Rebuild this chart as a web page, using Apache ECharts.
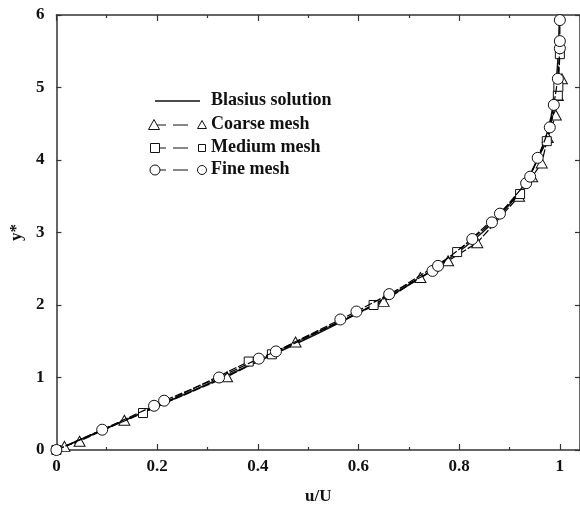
<!DOCTYPE html>
<html>
<head>
<meta charset="utf-8">
<script src="https://cdn.jsdelivr.net/npm/echarts@6/dist/echarts.min.js"></script>
<style>
html,body{margin:0;padding:0;background:#fff;}
#chart{width:580px;height:510px;}
</style>
</head>
<body>
<div id="chart"></div>
<script>
// Blasius solution (tabulated)
const blasiusY = [0,0.2,0.4,0.6,0.8,1.0,1.2,1.4,1.6,1.8,2.0,2.2,2.4,2.6,2.8,3.0,3.2,3.4,3.6,3.8,4.0,4.2,4.4,4.6,4.8,5.0,5.2,5.4,5.6,5.8,6.0];
const blasiusU = [0,0.0664,0.1328,0.1989,0.2647,0.3298,0.3938,0.4563,0.5168,0.5748,0.6298,0.6813,0.7290,0.7725,0.8115,0.8461,0.8761,0.9018,0.9233,0.9411,0.9555,0.9670,0.9759,0.9827,0.9878,0.9916,0.9943,0.9962,0.9975,0.9984,0.9990];

// Coarse mesh (triangles)
const coarseU = [0.016,0.046,0.135,0.339,0.475,0.650,0.723,0.778,0.836,0.919,0.945,0.964,0.976,0.992,0.996,1.004];
const coarseY = [0.05,0.12,0.41,1.01,1.49,2.05,2.38,2.61,2.86,3.50,3.77,3.96,4.31,4.62,4.89,5.12];

// Medium mesh (squares)
const mediumU = [0.0,0.172,0.382,0.428,0.630,0.796,0.921,0.974,0.996,0.997,1.0];
const mediumY = [0.0,0.51,1.22,1.32,2.00,2.73,3.53,4.26,4.89,5.01,5.46];

// Fine mesh (circles)
const fineU = [0.0,0.091,0.194,0.214,0.323,0.402,0.436,0.564,0.596,0.661,0.747,0.758,0.826,0.865,0.881,0.933,0.941,0.956,0.980,0.988,0.996,1.0,1.0,1.0];
const fineY = [0.0,0.28,0.61,0.68,1.00,1.26,1.36,1.80,1.91,2.15,2.47,2.54,2.91,3.14,3.26,3.68,3.77,4.03,4.45,4.76,5.12,5.54,5.64,5.93];

const xTicks = [0,0.2,0.4,0.6,0.8,1];
const yTicks = [0,1,2,3,4,5,6];

const legendNames = ['Blasius solution','Coarse mesh','Medium mesh','Fine mesh'];

const FONT = '"Liberation Serif","DejaVu Serif",serif';
const INK = '#111';
const AX = '#333';

function pairs(xs, ys){ return xs.map((x,i)=>[x, ys[i]]); }

const chart = echarts.init(document.getElementById('chart'), null, {renderer:'canvas'});

const tickStyle = {color:AX, width:1.2};

const option = {
  animation:false,
  backgroundColor:'#fff',
  grid:{left:55, right:0, top:15, bottom:52, containLabel:false},
  xAxis:[
    {
      type:'value', min:0, max:1.04, interval:0.2, position:'bottom',
      axisLine:{show:true, onZero:false, lineStyle:{color:AX, width:1.5}},
      splitLine:{show:false},
      name:'u/U', nameLocation:'middle', nameGap:38,
      nameTextStyle:{fontFamily:FONT, fontWeight:'bold', fontSize:17, color:INK},
      axisTick:{show:true, inside:true, length:6, lineStyle:tickStyle},
      minorTick:{show:true, splitNumber:2, length:3, lineStyle:tickStyle},
      axisLabel:{show:true, margin:8, fontFamily:FONT, fontWeight:'bold', fontSize:17, color:INK,
        showMaxLabel:false,
        formatter:function(v){ const r=Math.round(v*10)/10; return xTicks.indexOf(r)>=0 && Math.abs(r-v)<1e-6 ? String(r) : ''; }}
    },
    {
      type:'value', min:0, max:1.04, interval:0.2, position:'top',
      axisLine:{show:true, onZero:false, lineStyle:{color:AX, width:1.5}},
      splitLine:{show:false},
      axisTick:{show:true, inside:true, length:6, lineStyle:tickStyle},
      minorTick:{show:true, splitNumber:2, length:3, lineStyle:tickStyle},
      axisLabel:{show:false}
    }
  ],
  yAxis:[
    {
      type:'value', min:0, max:6, interval:1, position:'left',
      axisLine:{show:true, onZero:false, lineStyle:{color:AX, width:1.5}},
      splitLine:{show:false},
      name:'y*', nameLocation:'middle', nameGap:31, nameRotate:90,
      nameTextStyle:{fontFamily:FONT, fontWeight:'bold', fontSize:17, color:INK},
      axisTick:{show:true, inside:true, length:5, lineStyle:tickStyle},
      axisLabel:{show:true, margin:12, fontFamily:FONT, fontWeight:'bold', fontSize:17, color:INK,
        formatter:function(v){ return yTicks.indexOf(v)>=0 ? String(v) : ''; }}
    },
    {
      type:'value', min:0, max:6, interval:1, position:'right',
      axisLine:{show:true, onZero:false, lineStyle:{color:AX, width:1.5}},
      splitLine:{show:false},
      axisTick:{show:true, inside:true, length:5, lineStyle:tickStyle},
      axisLabel:{show:false}
    }
  ],
  series:[
    {name:legendNames[0], type:'line', data:pairs(blasiusU, blasiusY), showSymbol:false, symbol:'none',
      lineStyle:{color:INK, width:1.5}, z:2},
    {name:legendNames[1], type:'line', data:pairs(coarseU, coarseY), symbol:'triangle', symbolSize:[11,10],
      itemStyle:{color:'#fff', borderColor:INK, borderWidth:1},
      lineStyle:{color:'#000', width:1.2, type:[8,2]}, z:3},
    {name:legendNames[2], type:'line', data:pairs(mediumU, mediumY), symbol:'rect', symbolSize:9,
      itemStyle:{color:'#fff', borderColor:INK, borderWidth:1},
      lineStyle:{color:'#000', width:1.2, type:[8,2]}, z:4},
    {name:legendNames[3], type:'line', data:pairs(fineU, fineY), symbol:'circle', symbolSize:11,
      itemStyle:{color:'#fff', borderColor:INK, borderWidth:1},
      lineStyle:{color:'#000', width:1.2, type:[8,2]}, z:5}
  ],
  graphic:[
    // legend row 1
    {type:'line', shape:{x1:155,y1:101,x2:200,y2:101}, style:{stroke:INK, lineWidth:1.3}},
    {type:'text', left:211, top:91, style:{text:legendNames[0], font:'bold 18px '+FONT, fill:INK}},
    // legend row 2
    {type:'line', shape:{x1:154,y1:125,x2:166,y2:125}, style:{stroke:INK, lineWidth:1}},
    {type:'line', shape:{x1:173,y1:125,x2:188,y2:125}, style:{stroke:INK, lineWidth:1}},
    {type:'polygon', shape:{points:[[154,119.5],[159.5,129.5],[148.5,129.5]]}, style:{fill:'#fff', stroke:INK, lineWidth:1}},
    {type:'polygon', shape:{points:[[202,120.5],[206.5,128.5],[197.5,128.5]]}, style:{fill:'#fff', stroke:INK, lineWidth:1}},
    {type:'text', left:211, top:115, style:{text:legendNames[1], font:'bold 18px '+FONT, fill:INK}},
    // legend row 3
    {type:'line', shape:{x1:155,y1:148,x2:166,y2:148}, style:{stroke:INK, lineWidth:1}},
    {type:'line', shape:{x1:173,y1:148,x2:188,y2:148}, style:{stroke:INK, lineWidth:1}},
    {type:'rect', shape:{x:150.5,y:143.5,width:9,height:9}, style:{fill:'#fff', stroke:INK, lineWidth:1}},
    {type:'rect', shape:{x:198.5,y:144.5,width:7,height:7}, style:{fill:'#fff', stroke:INK, lineWidth:1}},
    {type:'text', left:211, top:138, style:{text:legendNames[2], font:'bold 18px '+FONT, fill:INK}},
    // legend row 4
    {type:'line', shape:{x1:155,y1:170,x2:166,y2:170}, style:{stroke:INK, lineWidth:1}},
    {type:'line', shape:{x1:173,y1:170,x2:188,y2:170}, style:{stroke:INK, lineWidth:1}},
    {type:'circle', shape:{cx:155,cy:170,r:5}, style:{fill:'#fff', stroke:INK, lineWidth:1}},
    {type:'circle', shape:{cx:202,cy:170,r:4.5}, style:{fill:'#fff', stroke:INK, lineWidth:1}},
    {type:'text', left:211, top:160, style:{text:legendNames[3], font:'bold 18px '+FONT, fill:INK}}
  ]
};
chart.setOption(option);
</script>
</body>
</html>
